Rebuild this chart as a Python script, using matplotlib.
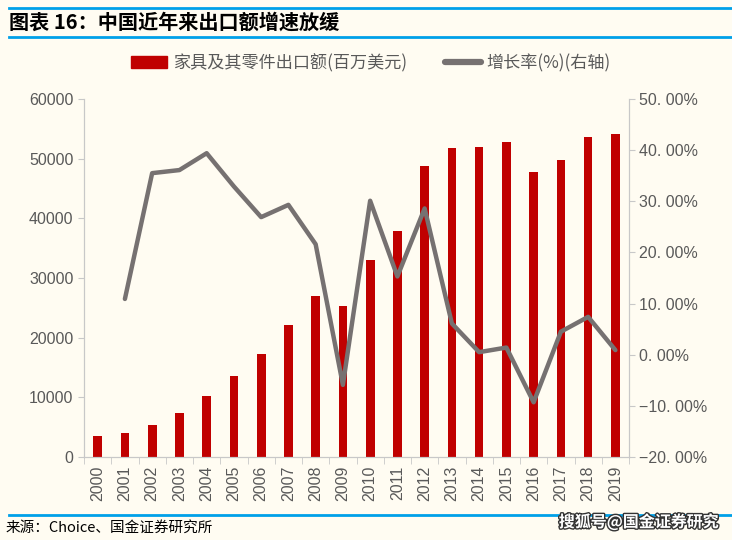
import numpy as np
import matplotlib.pyplot as plt
import matplotlib.patheffects as pe
from matplotlib.lines import Line2D
from matplotlib.patches import Patch

plt.rcParams['font.family'] = ['Noto Sans CJK SC', 'DejaVu Sans']
num_font = ['Liberation Sans', 'DejaVu Sans']

years = [str(y) for y in range(2000, 2020)]
export_value = [3500, 4000, 5350, 7400, 10200, 13550, 17250, 22100, 27000, 25300,
                33000, 37900, 48800, 51800, 52000, 52800, 47800, 49800, 53650, 54150]
growth_rate = [np.nan, 10.9, 35.5, 36.1, 39.4, 32.9, 26.9, 29.3, 21.6, -5.9,
               30.1, 15.3, 28.6, 6.1, 0.5, 1.4, -9.3, 4.5, 7.4, 0.9]

bg = "#FFFCF2"
red = "#C00000"
grey = "#767171"
blue = "#00A0E9"
txt = "#595959"
axc = "#C8C8C8"

fig = plt.figure(figsize=(7.32, 5.40), dpi=100, facecolor=bg)
ax = fig.add_axes([0.1148, 0.1537, 0.7445, 0.663])
ax.set_facecolor(bg)
ax2 = ax.twinx()

x = np.arange(len(years))
ax.bar(x, export_value, width=0.32, color=red, zorder=2)
ax2.plot(x, growth_rate, color=grey, linewidth=3.2, solid_capstyle='round', zorder=3)

ax.set_xlim(-0.5, len(years) - 0.5)
ax.set_ylim(0, 60000)
ax.set_yticks(range(0, 60001, 10000))
ax2.set_ylim(-20, 50)
ax2.set_yticks(range(-20, 51, 10))
ax2.set_yticklabels([f"{v:.2f}%".replace(".", ". ").replace("-", "−") for v in range(-20, 51, 10)])

ax.set_xticks(x)
ax.set_xticklabels(years, rotation=90)
ax.set_xticks(np.arange(-0.5, len(years), 1), minor=True)
ax.tick_params(axis='x', which='major', length=0, pad=6, labelsize=11.5, labelcolor=txt)
ax.tick_params(axis='x', which='minor', length=5, color=axc, direction='out')
ax.tick_params(axis='y', length=4, color=axc, labelsize=11.5, labelcolor=txt)
ax2.tick_params(axis='y', length=4, color=axc, labelsize=11.5, labelcolor=txt)
for lab in ax.get_xticklabels() + ax.get_yticklabels() + ax2.get_yticklabels():
    lab.set_family(num_font)

for a in (ax, ax2):
    a.spines['top'].set_visible(False)
    for s in ('left', 'right', 'bottom'):
        a.spines[s].set_color(axc)

handles = [Patch(color=red), Line2D([0], [0], color=grey, linewidth=4.5, solid_capstyle='round')]
labels = ["家具及其零件出口额(百万美元)", "增长率(%)(右轴)"]
fig.legend(handles, labels, loc='center', bbox_to_anchor=(0.507, 0.883), ncol=2, frameon=False,
           fontsize=12.3, labelcolor=txt, handlelength=2.1, handleheight=0.7, columnspacing=2.2,
           handletextpad=0.35)

# header and footer
fig.add_artist(Line2D([0.012, 1.0], [1 - 8 / 540, 1 - 8 / 540], color=blue, linewidth=2))
fig.add_artist(Line2D([0.012, 1.0], [1 - 37 / 540, 1 - 37 / 540], color=blue, linewidth=2))
fig.add_artist(Line2D([0.012, 1.0], [1 - 515 / 540, 1 - 515 / 540], color=blue, linewidth=2))
fig.text(0.012, 1 - 22 / 540, "图表 16：中国近年来出口额增速放缓", fontsize=14.5, fontweight='bold',
         style='italic', va='center', ha='left', color='black')
fig.text(0.008, 1 - 528 / 540, "来源：Choice、国金证券研究所", fontsize=10.5, va='center', ha='left',
         color='black')
fig.text(0.982, 1 - 522 / 540, "搜狐号@国金证券研究", fontsize=11.5, fontweight='bold', va='center',
         ha='right', color='white',
         path_effects=[pe.withStroke(linewidth=2, foreground='#333333')])

fig.savefig("out.png", dpi=100, facecolor=bg)
